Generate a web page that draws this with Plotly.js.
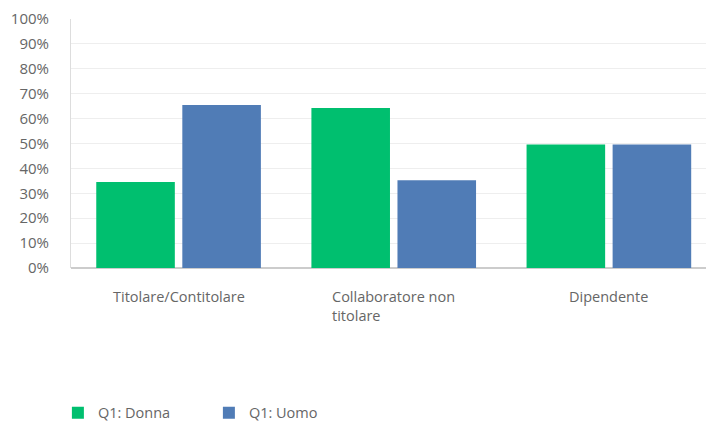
<!DOCTYPE html>
<html>
<head>
<meta charset="utf-8">
<script src="https://cdn.plot.ly/plotly-3.0.1.min.js"></script>
<style>html,body{margin:0;padding:0;background:#fff;}#chart{width:706px;height:426px;}</style>
</head>
<body>
<div id="chart"></div>
<script>
const categories = ["Titolare/Contitolare", "Collaboratore non<br>titolare", "Dipendente"];
const seriesNames = ["Q1: Donna", "Q1: Uomo"];
const donna = [34.5, 64.3, 49.6];
const uomo = [65.5, 35.2, 49.6];
const yTickVals = [0, 10, 20, 30, 40, 50, 60, 70, 80, 90, 100];
const yTickText = ["0%", "10%", "20%", "30%", "40%", "50%", "60%", "70%", "80%", "90%", "100%"];

const green = "#00bf6f", blue = "#507cb6";
const txt = "#666666";
const font = "'Open Sans', sans-serif";

const idx = categories.map((c, i) => i);
const traces = [
  {type: "bar", name: seriesNames[0], x: idx, y: donna, marker: {color: green}, hoverinfo: "none"},
  {type: "bar", name: seriesNames[1], x: idx, y: uomo, marker: {color: blue}, hoverinfo: "none"}
];

const annotations = categories.map((c, i) => ({
  x: i, y: 0, xref: "x", yref: "y", yanchor: "top", xanchor: "center", yshift: -17,
  text: c, align: "left", showarrow: false,
  font: {family: font, size: 14.5, color: txt}
}));

const layout = {
  width: 706, height: 426,
  margin: {l: 71, r: 0, t: 19, b: 158, autoexpand: false},
  paper_bgcolor: "#fff", plot_bgcolor: "#fff",
  barmode: "group", bargap: 0.2, bargroupgap: 0.087,
  showlegend: true,
  legend: {orientation: "h", xref: "container", x: 0.082, xanchor: "left",
    yref: "container", y: 0.031, yanchor: "middle",
    font: {family: font, size: 14.5, color: txt}, entrywidth: 106, entrywidthmode: "pixels",
    traceorder: "normal"},
  xaxis: {range: [-0.5, 2.4514], showticklabels: false, showgrid: false, zeroline: false,
    showline: false, fixedrange: true},
  yaxis: {range: [0, 100], tickvals: yTickVals, ticktext: yTickText,
    showgrid: true, gridcolor: "#eeeeee", gridwidth: 1,
    zeroline: true, zerolinecolor: "#cccccc", zerolinewidth: 1.5,
    showline: true, linecolor: "#dddddd", linewidth: 1,
    ticks: "", ticklabelstandoff: 18,
    tickfont: {family: font, size: 15, color: txt}},
  annotations: annotations
};

Plotly.newPlot("chart", traces, layout, {displayModeBar: false, staticPlot: true});
</script>
</body>
</html>
